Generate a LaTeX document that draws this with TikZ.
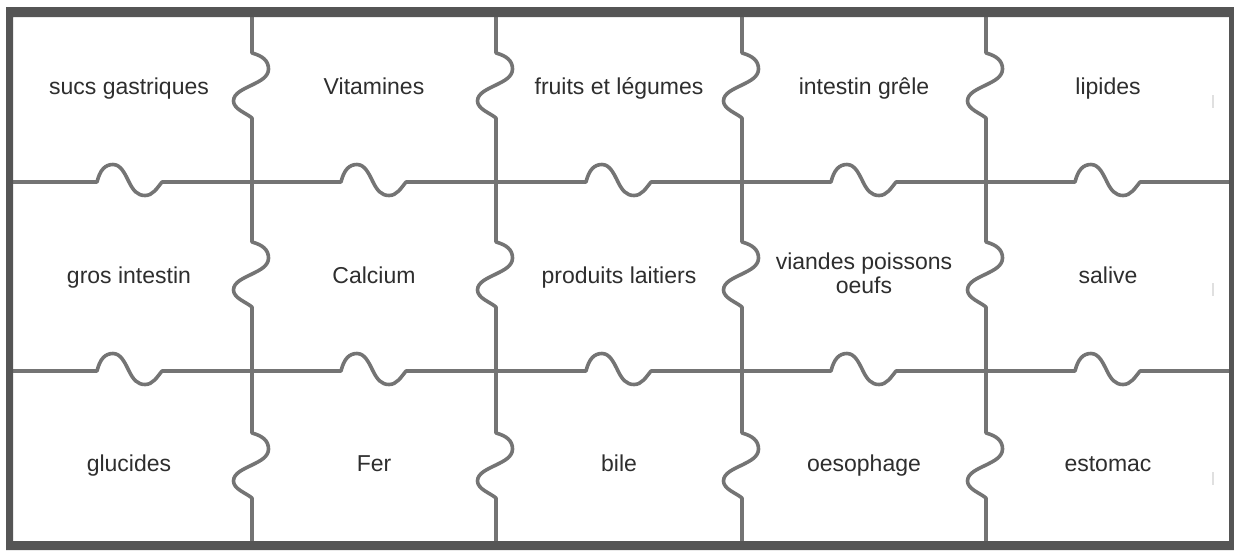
\documentclass[tikz,border=0pt]{standalone}
\usepackage{fontspec}
\setmainfont{Liberation Sans}
\definecolor{framegray}{HTML}{555555}
\definecolor{gridgray}{HTML}{747474}
\definecolor{txtgray}{HTML}{2E2E2E}
\definecolor{tickgray}{HTML}{E0E0E0}
\begin{document}
\begin{tikzpicture}[x=1pt,y=-1pt,
  gridline/.style={draw=gridgray,line width=3.6pt,line join=round},
  tickline/.style={draw=tickgray,line width=1.2pt},
  cellText/.style={font=\fontsize{23}{24}\selectfont,text=txtgray,align=center,inner sep=0pt,anchor=base}]
\useasboundingbox (0,0) rectangle (1234,550);
\fill[white] (0,0) rectangle (1234,550);
% horizontal lines with knobs
\foreach \Y in {182,371}{
  \draw[gridline] (13,\Y)
    \foreach \s in {97,341,586,831,1075}{
      -- (\s,\Y)
      .. controls (\s+3,\Y-12) and (\s+8,\Y-17.5) .. (\s+16,\Y-17.5)
      .. controls (\s+24,\Y-17.5) and (\s+28,\Y-8) .. (\s+32,\Y)
      .. controls (\s+36,\Y+8) and (\s+40,\Y+13.5) .. (\s+48,\Y+13.5)
      .. controls (\s+56,\Y+13.5) and (\s+60,\Y+6) .. (\s+65,\Y)
    } -- (1229,\Y);
}
% vertical lines with knobs
\foreach \X in {252,496,742,986}{
  \draw[gridline] (\X,17)
    \foreach \t in {53,242,433}{
      -- (\X,\t)
      .. controls (\X+11,\t+3) and (\X+16.5,\t+8) .. (\X+16.5,\t+16)
      .. controls (\X+16.5,\t+24) and (\X+8,\t+28) .. (\X,\t+32)
      .. controls (\X-8,\t+36) and (\X-18.5,\t+40) .. (\X-18.5,\t+48)
      .. controls (\X-18.5,\t+56) and (\X-6,\t+60) .. (\X,\t+65)
    } -- (\X,541);
}
% faint ticks near right edge
\draw[tickline] (1213,95) -- (1213,108);
\draw[tickline] (1213,283) -- (1213,296);
\draw[tickline] (1213,472) -- (1213,485);
% outer frame
\fill[framegray,even odd rule] (6,7) rectangle (1234,550) (13,17) rectangle (1229,541);
% texts
\node[cellText] (t11) at (129,94) {sucs gastriques};
\node[cellText] (t12) at (374,94) {Vitamines};
\node[cellText] (t13) at (619,94) {fruits et légumes};
\node[cellText] (t14) at (864,94) {intestin grêle};
\node[cellText] (t15) at (1108,94) {lipides};
\node[cellText] (t21) at (129,283) {gros intestin};
\node[cellText] (t22) at (374,283) {Calcium};
\node[cellText] (t23) at (619,283) {produits laitiers};
\node[cellText] (t24) at (864,293) {viandes poissons\\oeufs};
\node[cellText] (t25) at (1108,283) {salive};
\node[cellText] (t31) at (129,471) {glucides};
\node[cellText] (t32) at (374,471) {Fer};
\node[cellText] (t33) at (619,471) {bile};
\node[cellText] (t34) at (864,471) {oesophage};
\node[cellText] (t35) at (1108,471) {estomac};
\end{tikzpicture}
\end{document}
